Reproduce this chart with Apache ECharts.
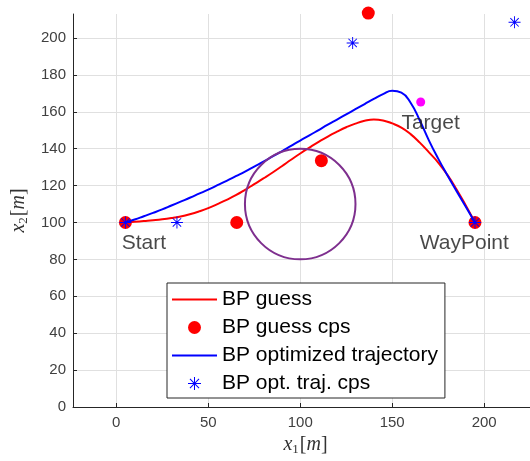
<!DOCTYPE html>
<html>
<head>
<meta charset="utf-8">
<script src="https://cdn.jsdelivr.net/npm/echarts@6/dist/echarts.min.js"></script>
<style>
  html, body { margin: 0; padding: 0; background: #ffffff; }
  #chart { width: 530px; height: 461px; }
</style>
</head>
<body>
<div id="chart"></div>
<script>
// Initial Bernstein-polynomial guess (trajectory samples)
const guessX = [5, 10, 15, 20, 25, 30, 35, 40, 45, 50, 55, 60, 65, 70, 75, 80, 85, 90, 95, 100,
                105, 110, 115, 120, 125, 130, 135, 140, 145, 150, 155, 160, 165, 170, 175, 180, 185, 190, 195];
const guessY = [100, 100.4, 100.8, 101.2, 101.7, 102.4, 103.3, 104.5, 106, 107.8, 110, 112.3, 114.8, 117.7, 120.8, 123.9, 127.1, 130.5, 134, 137.4,
                140.6, 143.7, 146.6, 149.2, 151.6, 153.6, 155.1, 155.8, 155.3, 153.7, 151.4, 147.9, 143.3, 138, 132.5, 125.8, 117.9, 109.2, 100];

// Guess control points
const guessCpX = [5, 65.5, 111.5, 137, 195];
const guessCpY = [100, 100, 133.5, 213.5, 100];

// Optimized trajectory samples
const optX = [5, 10, 15, 20, 25, 30, 35, 40, 45, 50, 55, 60, 65, 70, 75, 80, 85, 90, 95, 100,
              105, 110, 115, 120, 125, 130, 135, 140, 145, 150, 155, 160, 165, 170, 175, 180, 185, 190, 195];
const optY = [100, 101.6, 103.4, 105.2, 107.1, 109.2, 111.3, 113.4, 115.6, 117.8, 120.2, 122.6, 125.1, 127.6, 130.3, 133, 135.8, 138.6, 141.5, 144.4,
              147.2, 150.1, 153, 155.8, 158.6, 161.4, 164.2, 167, 169.6, 171.4, 170.4, 164.9, 155.3, 144.4, 134.6, 125.6, 117, 108.5, 100];

// Optimized control points
const optCpX = [5, 33, 128.5, 216.5, 195];
const optCpY = [100, 100, 197.3, 208.5, 100];

// Circular obstacle: centre x, centre y, radius
const obstacle = [100, 110, 30];

// Target location
const target = [165.5, 165.3];

// Annotations
const notes = [
  { name: 'Start', x: 3, y: 89 },
  { name: 'WayPoint', x: 165, y: 89 },
  { name: 'Target', x: 155, y: 154 }
];

// Tick labels
const xTicks = [0, 50, 100, 150, 200];
const yTicks = [0, 20, 40, 60, 80, 100, 120, 140, 160, 180, 200];

const seriesNames = ['BP guess', 'BP guess cps', 'BP optimized trajectory', 'BP opt. traj. cps'];

const zip = (xs, ys) => xs.map((x, i) => [x, ys[i]]);

// Asterisk marker (plus + cross), filled thin bars, all wound the same way
const asterisk = 'path://M12,0L14,0L14,26L12,26Z M0,12L26,12L26,14L0,14Z ' +
  'M4.6,3.2L22.8,21.4L21.4,22.8L3.2,4.6Z M21.4,3.2L22.8,4.6L4.6,22.8L3.2,21.4Z';

// Plain line sample for the legend
const lineIcon = 'path://M0,0L45,0L45,2L0,2Z';

const axisColor = '#262626';
const tickColor = '#404040';
const gridColor = '#e0e0e0';
const serif = '"Liberation Serif", "DejaVu Serif", serif';

const nameRich = {
  i: { fontFamily: serif, fontStyle: 'italic', fontSize: 20, color: '#333' },
  s: { fontFamily: serif, fontSize: 13, color: '#333', padding: [9, 1, 0, 0] },
  n: { fontFamily: serif, fontSize: 20, color: '#333' }
};

const chart = echarts.init(document.getElementById('chart'), null, { renderer: 'canvas' });

chart.setOption({
  animation: false,
  backgroundColor: '#ffffff',
  grid: { left: 73, top: 14, right: 0, bottom: 54, containLabel: false },
  xAxis: {
    type: 'value',
    min: -23.5,
    max: 224.9,
    axisLine: { show: true, onZero: false, lineStyle: { color: axisColor, width: 1 } },
    axisTick: { show: true, inside: true, length: 4, customValues: xTicks, lineStyle: { color: axisColor } },
    axisLabel: { customValues: xTicks, fontSize: 15, color: tickColor, margin: 8, fontFamily: '"Liberation Sans", Arial, sans-serif' },
    splitLine: { show: true, lineStyle: { color: gridColor, width: 1 } },
    name: '{i|x}{s|1}{n|[}{i|m}{n|]}',
    nameLocation: 'middle',
    nameGap: 27,
    nameTextStyle: { rich: nameRich, padding: [0, 0, 0, 8] }
  },
  yAxis: {
    type: 'value',
    min: 0,
    max: 213,
    axisLine: { show: true, onZero: false, lineStyle: { color: axisColor, width: 1 } },
    axisTick: { show: true, inside: true, length: 4, customValues: yTicks, lineStyle: { color: axisColor } },
    axisLabel: { customValues: yTicks, fontSize: 15, color: tickColor, margin: 7, fontFamily: '"Liberation Sans", Arial, sans-serif' },
    splitLine: { show: true, lineStyle: { color: gridColor, width: 1 } },
    name: '{i|x}{s|2}{n|[}{i|m}{n|]}',
    nameLocation: 'middle',
    nameRotate: 90,
    nameGap: 42,
    nameTextStyle: { rich: nameRich }
  },
  legend: {
    orient: 'vertical',
    left: 167,
    top: 283,
    padding: [6, 7, 4, 5],
    itemWidth: 45,
    itemHeight: 13,
    itemGap: 7,
    symbolKeepAspect: true,
    backgroundColor: '#ffffff',
    borderColor: '#262626',
    borderWidth: 1,
    borderRadius: 0,
    textStyle: { fontSize: 21, lineHeight: 21, color: '#000000', fontFamily: '"Liberation Sans", Arial, sans-serif' },
    data: [
      { name: seriesNames[0], icon: lineIcon },
      { name: seriesNames[1], icon: 'circle' },
      { name: seriesNames[2], icon: lineIcon },
      { name: seriesNames[3], icon: asterisk }
    ]
  },
  series: [
    {
      name: seriesNames[0],
      type: 'line',
      data: zip(guessX, guessY),
      smooth: 0.5,
      symbol: 'none',
      lineStyle: { color: '#ff0000', width: 2 },
      itemStyle: { color: '#ff0000' },
      z: 2
    },
    {
      name: seriesNames[1],
      type: 'scatter',
      data: zip(guessCpX, guessCpY),
      symbol: 'circle',
      symbolSize: 13,
      clip: false,
      itemStyle: { color: '#ff0000', opacity: 1 },
      z: 3
    },
    {
      name: seriesNames[2],
      type: 'line',
      data: zip(optX, optY),
      smooth: 0.5,
      symbol: 'none',
      lineStyle: { color: '#0000ff', width: 2 },
      itemStyle: { color: '#0000ff' },
      z: 4
    },
    {
      name: seriesNames[3],
      type: 'scatter',
      data: zip(optCpX, optCpY),
      symbol: asterisk,
      symbolSize: 12,
      clip: false,
      itemStyle: { color: '#0000ff', opacity: 1 },
      z: 5
    },
    {
      name: 'obstacle',
      type: 'custom',
      coordinateSystem: 'cartesian2d',
      data: [obstacle],
      z: 6,
      renderItem: function (params, api) {
        const c = api.coord([api.value(0), api.value(1)]);
        const s = api.size([api.value(2), api.value(2)]);
        return {
          type: 'circle',
          shape: { cx: c[0], cy: c[1], r: (s[0] + s[1]) / 2 },
          style: { fill: null, stroke: '#7e2f8e', lineWidth: 2 }
        };
      }
    },
    {
      name: 'target',
      type: 'scatter',
      data: [target],
      symbol: 'circle',
      symbolSize: 9,
      itemStyle: { color: '#ff00ff', opacity: 1 },
      z: 7
    },
    {
      name: 'notes',
      type: 'scatter',
      data: notes.map(n => ({ name: n.name, value: [n.x, n.y] })),
      symbolSize: 0.01,
      itemStyle: { color: 'rgba(0,0,0,0)' },
      label: {
        show: true,
        position: 'right',
        distance: 0,
        formatter: '{b}',
        fontSize: 21,
        color: '#1a1a1a',
        fontFamily: '"Liberation Sans", Arial, sans-serif'
      },
      z: 8
    }
  ]
});
</script>
</body>
</html>
